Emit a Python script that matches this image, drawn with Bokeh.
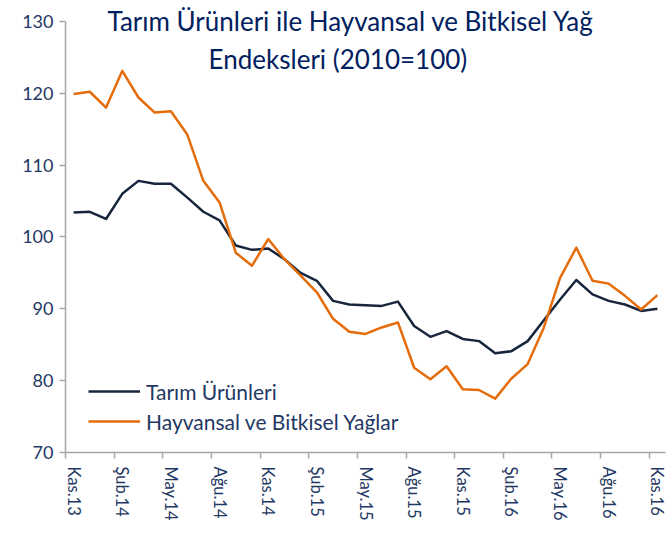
from bokeh.plotting import figure
from bokeh.models import FixedTicker, Legend, LegendItem, Label, Range1d
from bokeh.embed import file_html
from bokeh.resources import INLINE

months = ["Kas.13", "Ara.13", "Oca.14", "Şub.14", "Mar.14", "Nis.14", "May.14", "Haz.14", "Tem.14",
          "Ağu.14", "Eyl.14", "Eki.14", "Kas.14", "Ara.14", "Oca.15", "Şub.15", "Mar.15", "Nis.15",
          "May.15", "Haz.15", "Tem.15", "Ağu.15", "Eyl.15", "Eki.15", "Kas.15", "Ara.15", "Oca.16",
          "Şub.16", "Mar.16", "Nis.16", "May.16", "Haz.16", "Tem.16", "Ağu.16", "Eyl.16", "Eki.16",
          "Kas.16"]

tarim = [103.4, 103.5, 102.5, 106.0, 107.8, 107.4, 107.4, 105.5, 103.5, 102.3, 98.8, 98.2,
         98.4, 96.9, 95.0, 93.9, 91.1, 90.6, 90.5, 90.4, 91.0, 87.6, 86.1, 86.9, 85.8, 85.5,
         83.8, 84.1, 85.5, 88.4, 91.3, 94.0, 92.0, 91.1, 90.6, 89.7, 90.0]

yaglar = [119.9, 120.2, 118.0, 123.1, 119.4, 117.3, 117.5, 114.3, 107.8, 104.8, 97.8, 96.0,
          99.7, 96.9, 94.6, 92.3, 88.6, 86.8, 86.5, 87.4, 88.1, 81.8, 80.2, 82.0, 78.8, 78.7,
          77.5, 80.3, 82.3, 87.4, 94.3, 98.5, 93.9, 93.5, 91.8, 89.9, 91.9]

y_ticks = [70, 80, 90, 100, 110, 120, 130]
title_lines = ["Tarım Ürünleri ile Hayvansal ve Bitkisel Yağ", "Endeksleri (2010=100)"]
series_names = ["Tarım Ürünleri", "Hayvansal ve Bitkisel Yağlar"]

FONT = "Lato"
TXT = "#1F3864"
NAVY = "#17263C"
ORANGE = "#E46C0A"
AXIS = "#A6A6A6"

idx = list(range(len(months)))

p = figure(width=667, height=543, output_backend="svg", toolbar_location=None,
           x_range=Range1d(-0.5, len(months) - 0.5), y_range=Range1d(70, 132.9),
           min_border_left=65, min_border_right=2, min_border_top=0, min_border_bottom=91)
p.outline_line_color = None
p.grid.grid_line_color = None
p.background_fill_color = "white"
p.border_fill_color = "white"

r1 = p.line(idx, tarim, line_color=NAVY, line_width=2.5, line_join="round")
r2 = p.line(idx, yaglar, line_color=ORANGE, line_width=2.5, line_join="round")

# x axis: labels every 3 months at category centres, tick marks at category boundaries
xt = FixedTicker(ticks=idx[::3], minor_ticks=[i - 0.5 for i in idx[::3]])
p.xaxis.ticker = xt
p.xaxis.major_label_overrides = {i: months[i] for i in idx[::3]}
p.xaxis.major_label_orientation = "vertical"
p.xaxis.major_tick_line_color = None
p.xaxis.major_tick_out = 0
p.xaxis.major_tick_in = 0
p.xaxis.minor_tick_line_color = AXIS
p.xaxis.minor_tick_out = 6
p.xaxis.minor_tick_in = 0
p.xaxis.minor_tick_line_width = 1.5
p.xaxis.axis_line_color = AXIS
p.xaxis.axis_line_width = 1.5
p.xaxis.major_label_standoff = 8
p.xaxis.major_label_text_font = FONT
p.xaxis.major_label_text_font_size = "16.5px"
p.xaxis.major_label_text_color = TXT

p.yaxis.ticker = FixedTicker(ticks=y_ticks)
p.yaxis.bounds = (70, 130)
p.yaxis.minor_tick_line_color = None
p.yaxis.major_tick_out = 6
p.yaxis.major_tick_in = 0
p.yaxis.major_tick_line_color = AXIS
p.yaxis.major_tick_line_width = 1.5
p.yaxis.axis_line_color = AXIS
p.yaxis.axis_line_width = 1.5
p.yaxis.major_label_standoff = 6
p.yaxis.major_label_text_font = FONT
p.yaxis.major_label_text_font_size = "18px"
p.yaxis.major_label_text_color = TXT

legend = Legend(items=[LegendItem(label=series_names[0], renderers=[r1]),
                       LegendItem(label=series_names[1], renderers=[r2])],
                location=(23, 16), orientation="vertical",
                border_line_color=None, background_fill_alpha=0,
                padding=0, margin=0, spacing=0,
                glyph_width=52, glyph_height=30, label_height=30, label_standoff=6,
                label_text_font=FONT, label_text_font_size="21px", label_text_color=TXT)
p.add_layout(legend, "center")

for txt, xc, yc in [(title_lines[0], 17.1, 130.1), (title_lines[1], 16.3, 124.8)]:
    p.add_layout(Label(x=xc, y=yc, text=txt, text_align="center", text_baseline="middle",
                       text_font=FONT, text_font_size="26px", text_color="#002060"))

open("out.html", "w").write(file_html(p, INLINE))
